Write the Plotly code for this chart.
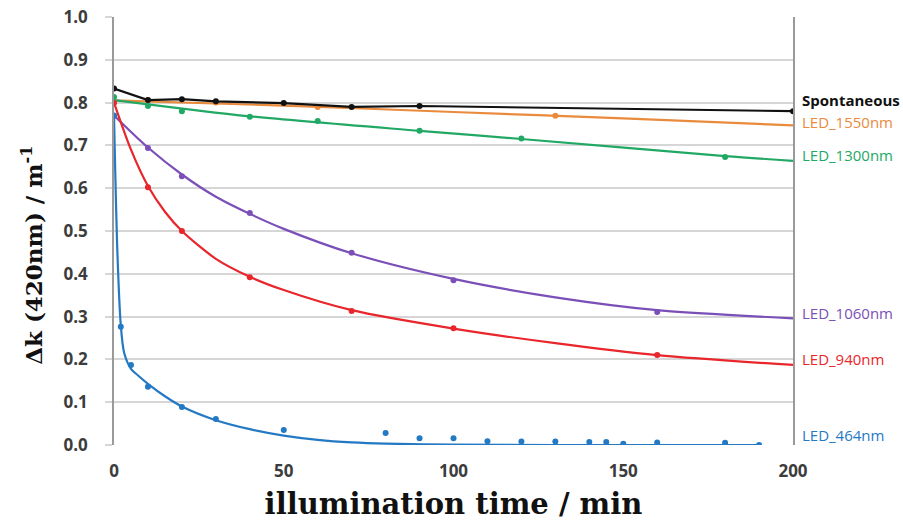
import plotly.graph_objects as go

# Measured points (time in min, delta-k at 420 nm in 1/m)
t_spont = [0, 10, 20, 30, 50, 70, 90, 200]
k_spont = [0.833, 0.806, 0.808, 0.803, 0.799, 0.790, 0.792, 0.780]

t_1550 = [10, 30, 60, 130]
k_1550 = [0.806, 0.800, 0.790, 0.769]

t_1300 = [0, 10, 20, 40, 60, 90, 120, 180]
k_1300 = [0.813, 0.792, 0.780, 0.767, 0.757, 0.734, 0.716, 0.673]

t_1060 = [0, 10, 20, 40, 70, 100, 160]
k_1060 = [0.769, 0.694, 0.628, 0.542, 0.449, 0.385, 0.311]

t_940 = [0, 10, 20, 40, 70, 100, 160]
k_940 = [0.799, 0.602, 0.500, 0.392, 0.313, 0.273, 0.210]

t_464 = [0, 2, 5, 10, 20, 30, 50, 80, 90, 100, 110, 120, 130, 140, 145, 150, 160, 180, 190]
k_464 = [0.770, 0.276, 0.187, 0.136, 0.089, 0.061, 0.035, 0.028, 0.016, 0.016,
         0.009, 0.008, 0.008, 0.007, 0.007, 0.003, 0.006, 0.005, 0.000]

# Fitted decay curves
ft_1550 = [0, 50, 100, 150, 200]
fk_1550 = [0.805, 0.793, 0.778, 0.763, 0.747]

ft_1300 = [0, 40, 90, 120, 180, 200]
fk_1300 = [0.806, 0.768, 0.734, 0.715, 0.675, 0.664]

ft_1060 = [0, 10, 20, 30, 40, 50, 70, 100, 130, 160, 200]
fk_1060 = [0.770, 0.695, 0.632, 0.580, 0.540, 0.505, 0.448, 0.388, 0.345, 0.315, 0.296]

ft_940 = [0, 5, 10, 15, 20, 30, 40, 50, 70, 100, 130, 160, 200]
fk_940 = [0.800, 0.690, 0.605, 0.545, 0.500, 0.435, 0.393, 0.362, 0.315, 0.272, 0.238, 0.210, 0.187]

ft_464 = [0, 1, 2, 3, 5, 7, 10, 15, 20, 30, 40, 50, 60, 70, 80, 100, 130, 160, 190]
fk_464 = [0.770, 0.450, 0.280, 0.215, 0.178, 0.163, 0.143, 0.114, 0.090, 0.058, 0.037,
          0.022, 0.012, 0.006, 0.003, 0.001, 0.000, 0.000, 0.000]

series_names = ["Spontaneous", "LED_1550nm", "LED_1300nm", "LED_1060nm", "LED_940nm", "LED_464nm"]
colors = ["#111111", "#EA8A3C", "#22A865", "#7B4FB8", "#E8262B", "#2479C4"]
label_pos = [0.806, 0.755, 0.678, 0.308, 0.201, 0.023]

x_ticks = [0, 50, 100, 150, 200]
y_ticks = [0.0, 0.1, 0.2, 0.3, 0.4, 0.5, 0.6, 0.7, 0.8, 0.9, 1.0]

fig = go.Figure()

fits = [
    (ft_1550, fk_1550, colors[1]),
    (ft_1300, fk_1300, colors[2]),
    (ft_1060, fk_1060, colors[3]),
    (ft_940, fk_940, colors[4]),
    (ft_464, fk_464, colors[5]),
]
for ft, fk, c in fits:
    fig.add_trace(go.Scatter(x=ft, y=fk, mode="lines", line=dict(color=c, width=2.2, shape="spline", smoothing=0.8),
                             hoverinfo="skip", showlegend=False))

points = [
    (t_1550, k_1550, colors[1]),
    (t_1300, k_1300, colors[2]),
    (t_1060, k_1060, colors[3]),
    (t_940, k_940, colors[4]),
    (t_464, k_464, colors[5]),
]
for tt, kk, c in points:
    fig.add_trace(go.Scatter(x=tt, y=kk, mode="markers", marker=dict(color=c, size=6),
                             showlegend=False))

fig.add_trace(go.Scatter(x=t_spont, y=k_spont, mode="lines+markers",
                         line=dict(color=colors[0], width=2.2),
                         marker=dict(color=colors[0], size=6), showlegend=False))

for name, c, yv in zip(series_names, colors, label_pos):
    fig.add_annotation(x=1.0, xref="paper", y=yv, yref="y", xanchor="left", xshift=7,
                       text=f"<b>{name}</b>" if name == "Spontaneous" else name,
                       showarrow=False, font=dict(family="Open Sans, sans-serif", size=15, color=c))

tick_font = dict(family="Open Sans, sans-serif", size=17, color="#3C3C3C", weight="bold")
title_font_family = "DejaVu Serif, Liberation Serif, serif"

# y-axis title, set a little below the vertical centre of the plot
fig.add_annotation(x=-0.121, xref="paper", y=0.444, yref="paper", xanchor="center", yanchor="middle",
                   textangle=-90, showarrow=False,
                   text="<b>Δk (420nm) / m<sup>-1</sup></b>",
                   font=dict(family=title_font_family, size=23, color="#111"))

fig.update_layout(
    width=903, height=521,
    margin=dict(l=114, r=110, t=17, b=76),
    plot_bgcolor="white", paper_bgcolor="white",
    xaxis=dict(range=[0, 200], tickvals=x_ticks, ticktext=[str(v) for v in x_ticks],
               showgrid=False, zeroline=False, showline=False, automargin=False,
               ticks="", ticklabelstandoff=14,
               tickfont=tick_font,
               title=dict(text="<b>illumination time / min</b>", standoff=12,
                          font=dict(family=title_font_family, size=29, color="#111"))),
    yaxis=dict(range=[0, 1.0], tickvals=y_ticks, ticktext=[f"{v:.1f}" for v in y_ticks],
               showgrid=True, gridcolor="#D6D6D6", gridwidth=2, zeroline=False,
               showline=True, linecolor="#9A9A9A", linewidth=1.5, mirror=True, automargin=False,
               ticks="outside", ticklen=7, tickcolor="#D6D6D6", tickwidth=2,
               ticklabelstandoff=14,
               tickfont=tick_font),
)

fig.write_html("out.html")
